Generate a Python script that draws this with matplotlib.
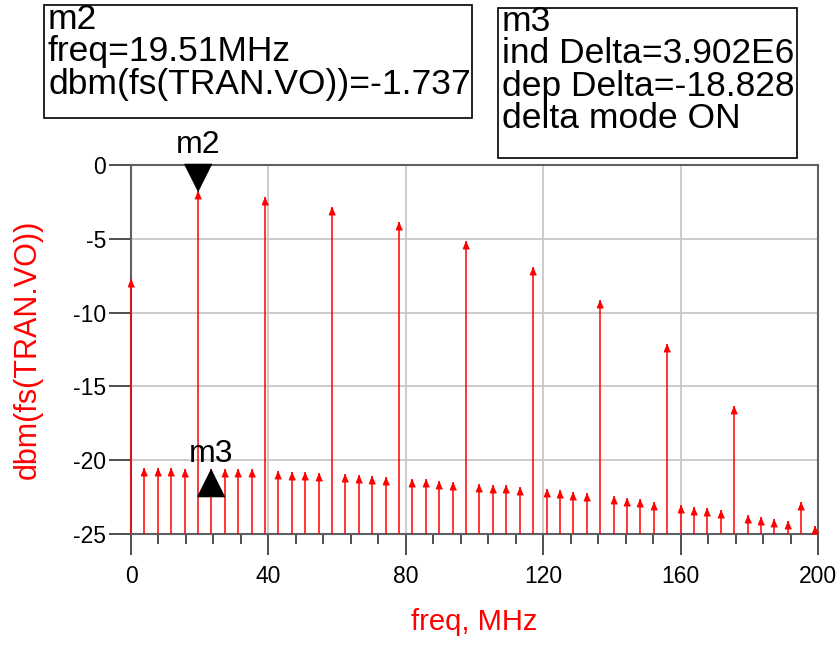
import numpy as np
import matplotlib
matplotlib.use('Agg')
import matplotlib.pyplot as plt
from matplotlib.patches import Rectangle
from matplotlib.ticker import MultipleLocator

plt.rcParams['font.family'] = ['Liberation Sans', 'DejaVu Sans']
plt.rcParams['axes.unicode_minus'] = False

# harmonic frequencies (MHz), spacing 3.902 MHz
freq = [0, 3.902, 7.804, 11.706, 15.608, 19.51, 23.412, 27.314, 31.216, 35.118,
        39.02, 42.922, 46.824, 50.726, 54.628, 58.53, 62.432, 66.334, 70.236, 74.138,
        78.04, 81.942, 85.844, 89.746, 93.648, 97.55, 101.452, 105.354, 109.256, 113.158,
        117.06, 120.962, 124.864, 128.766, 132.668, 136.57, 140.472, 144.374, 148.276, 152.178,
        156.08, 159.982, 163.884, 167.786, 171.688, 175.59, 179.492, 183.394, 187.296, 191.198,
        195.1, 199.002]

# dbm(fs(TRAN.VO)) at each harmonic
dbm = [-7.7, -20.55, -20.55, -20.55, -20.6, -1.737, -20.565, -20.6, -20.6, -20.6,
       -2.15, -20.75, -20.8, -20.8, -20.85, -2.85, -20.95, -21.0, -21.05, -21.15,
       -3.85, -21.25, -21.3, -21.4, -21.45, -5.15, -21.6, -21.65, -21.7, -21.8,
       -6.9, -21.95, -22.05, -22.15, -22.2, -9.15, -22.45, -22.55, -22.65, -22.8,
       -12.15, -23.05, -23.15, -23.25, -23.4, -16.35, -23.7, -23.85, -24.0, -24.15,
       -22.85, -24.45]

# markers
m2_freq, m2_val = 19.51, -1.737
m3_freq, m3_val = 23.412, -20.565

m2_lines = ['m2', 'freq=19.51MHz', 'dbm(fs(TRAN.VO))=-1.737']
m3_lines = ['m3', 'ind Delta=3.902E6', 'dep Delta=-18.828', 'delta mode ON']

W, H = 840, 648
fig = plt.figure(figsize=(W / 100, H / 100), dpi=100)
ax = fig.add_axes([131 / W, 1 - 534 / H, (818 - 131) / W, (534 - 165) / H])

ymin = -25
ax.vlines(freq, ymin, dbm, color='red', lw=1.1, zorder=5, clip_on=False)
arrow = [(0, 0), (-0.5, -1.2), (0.5, -1.2)]
ax.plot(freq, dbm, ls='none', marker=arrow, ms=10.5, color='red', zorder=5, clip_on=False)

# marker symbols
ax.plot([m2_freq], [m2_val], ls='none', marker=[(0, 0), (-0.5, 1), (0.5, 1)],
        ms=39, color='black', zorder=6, clip_on=False)
ax.plot([m3_freq], [m3_val], ls='none', marker=[(0, 0), (-0.5, -1), (0.5, -1)],
        ms=39, color='black', zorder=6, clip_on=False)
ax.annotate('m2', (m2_freq, m2_val), xytext=(0, 22), textcoords='offset points',
            ha='center', va='bottom', fontsize=23, annotation_clip=False, zorder=7)
ax.annotate('m3', (m3_freq, m3_val), xytext=(0, 0), textcoords='offset points',
            ha='center', va='bottom', fontsize=23, annotation_clip=False, zorder=7)

ax.set_xlim(0, 200)
ax.set_ylim(-25, 0)
ax.xaxis.set_major_locator(MultipleLocator(40))
ax.xaxis.set_minor_locator(MultipleLocator(8))
ax.yaxis.set_major_locator(MultipleLocator(5))
ax.grid(True, which='major', color='#c4c4c4', lw=1.2)
ax.set_axisbelow(True)
ax.tick_params(axis='x', which='major', length=15, width=1.2, labelsize=16.5, pad=7, color='#303030')
ax.tick_params(axis='x', which='minor', length=7.5, width=1.2, color='#303030')
ax.tick_params(axis='y', which='major', length=16, width=1.2, labelsize=16.5, pad=2, color='#303030')
for s in ax.spines.values():
    s.set_color('#606060')
    s.set_linewidth(1.5)

ax.set_xlabel('freq, MHz', color='red', fontsize=21, labelpad=15)
ax.set_ylabel('dbm(fs(TRAN.VO))', color='red', fontsize=22, labelpad=22)

# marker readout boxes
fig.patches.append(Rectangle((44 / W, 1 - 118 / H), (472 - 44) / W, (118 - 5) / H,
                             transform=fig.transFigure, fill=False, ec='black', lw=1.2))
fig.patches.append(Rectangle((498 / W, 1 - 158 / H), (797 - 498) / W, (158 - 8) / H,
                             transform=fig.transFigure, fill=False, ec='black', lw=1.2))
fig.text(48 / W, 1 - 3 / H, '\n'.join(m2_lines), ha='left', va='top',
         fontsize=25.5, linespacing=0.98)
fig.text(502 / W, 1 - 5 / H, '\n'.join(m3_lines), ha='left', va='top',
         fontsize=25.5, linespacing=0.98)

fig.savefig('out.png', dpi=100)
